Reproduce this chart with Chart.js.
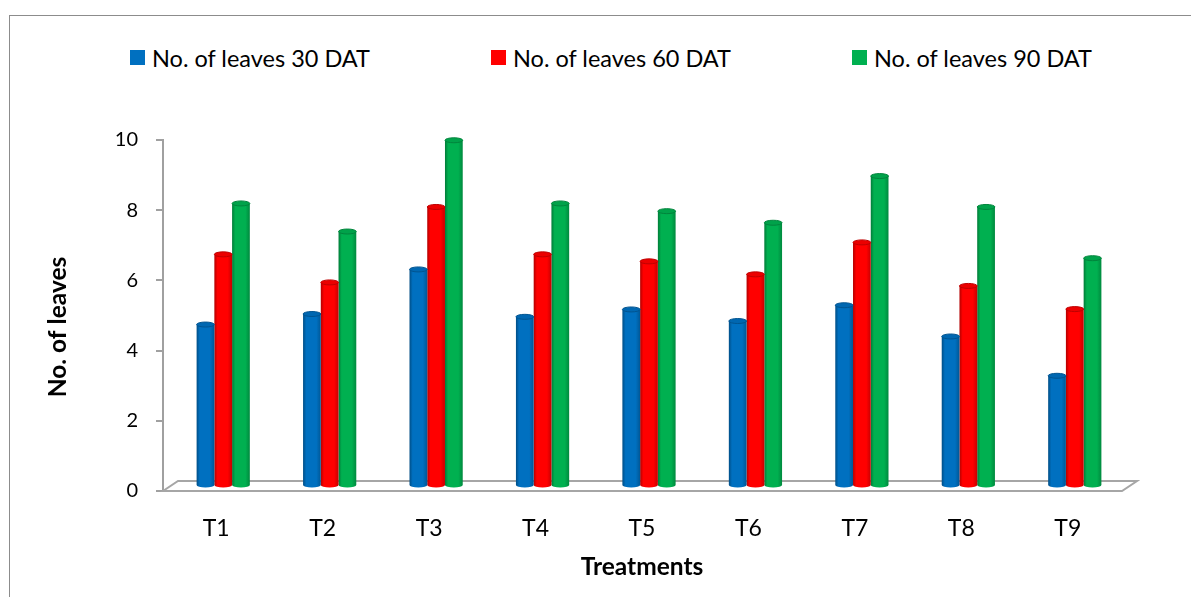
<!DOCTYPE html>
<html>
<head>
<meta charset="utf-8">
<script src="https://cdn.jsdelivr.net/npm/chart.js@4/dist/chart.umd.min.js"></script>
<style>
    body { margin: 0; background: #fff; overflow: hidden; }
    #frame { position: absolute; left: 9px; top: 15px; width: 1400px; height: 800px; border: 1px solid #8c8c8c; }
    #wrap { position: absolute; left: 0; top: 0; width: 1191px; height: 597px; }
    .legend-item { position: absolute; top: 43px; height: 29px; display: flex; align-items: center; font: 23.5px Lato, sans-serif; color: #000; white-space: nowrap; }
    .legend-item span { display: inline-block; width: 15px; height: 15px; margin-right: 7px; }
</style>
</head>
<body>
<div id="frame"></div>
<div id="legend"></div>
<div id="wrap"><canvas id="leavesChart" width="1191" height="597"></canvas></div>
<script>
const treatments = ["T1", "T2", "T3", "T4", "T5", "T6", "T7", "T8", "T9"];
const leaves30 = [4.60, 4.90, 6.17, 4.82, 5.03, 4.70, 5.15, 4.26, 3.14];
const leaves60 = [6.60, 5.80, 7.95, 6.60, 6.40, 6.03, 6.94, 5.70, 5.04];
const leaves90 = [8.05, 7.25, 9.85, 8.05, 7.83, 7.50, 8.83, 7.95, 6.49];
const seriesNames = ["No. of leaves 30 DAT", "No. of leaves 60 DAT", "No. of leaves 90 DAT"];
const seriesColors = ["#0070C0", "#FF0000", "#00B050"];
const legendLeft = [130, 491, 852];

const FONT = "Lato, sans-serif";

function shade(hex, f) {
    const n = parseInt(hex.slice(1), 16);
    const r = Math.round(((n >> 16) & 255) * f);
    const g = Math.round(((n >> 8) & 255) * f);
    const b = Math.round((n & 255) * f);
    return "rgb(" + Math.min(r, 255) + "," + Math.min(g, 255) + "," + Math.min(b, 255) + ")";
}

// html legend, Excel spaces the entries unevenly
const legendDiv = document.getElementById("legend");
seriesNames.forEach((name, i) => {
    const item = document.createElement("div");
    item.className = "legend-item";
    item.style.left = legendLeft[i] + "px";
    item.innerHTML = '<span style="background:' + seriesColors[i] + '"></span>' + name;
    legendDiv.appendChild(item);
});

// 3d floor + cylinder bars (bars sit half way back on the floor)
const DX = 7, DY = -5;
const cylinderPlugin = {
    id: "cylinders",
    beforeDatasetsDraw(chart) {
        const ctx = chart.ctx;
        const x = chart.scales.x, y = chart.scales.y;
        const y0 = y.getPixelForValue(0);
        ctx.save();
        ctx.beginPath();
        ctx.moveTo(x.left, y0);
        ctx.lineTo(x.left + 15, y0 - 10);
        ctx.lineTo(x.right + 16, y0 - 10);
        ctx.lineTo(x.right + 1, y0);
        ctx.closePath();
        ctx.fillStyle = "#ffffff";
        ctx.fill();
        ctx.strokeStyle = "#a6a6a6";
        ctx.lineWidth = 2;
        ctx.stroke();
        ctx.restore();
    },
    beforeDatasetDraw(chart, args) {
        const ctx = chart.ctx;
        const color = seriesColors[args.index];
        ctx.save();
        args.meta.data.forEach(bar => {
            const p = bar.getProps(["x", "y", "base", "width"], true);
            const cx = p.x + DX;
            const left = cx - p.width / 2, right = cx + p.width / 2;
            const top = p.y + DY, bottom = p.base + DY;
            const rx = p.width / 2, ry = 2.5;
            const grad = ctx.createLinearGradient(left, 0, right, 0);
            grad.addColorStop(0, shade(color, 0.7));
            grad.addColorStop(0.18, color);
            grad.addColorStop(0.75, color);
            grad.addColorStop(1, shade(color, 0.78));
            ctx.beginPath();
            ctx.moveTo(left, top);
            ctx.lineTo(left, bottom);
            ctx.ellipse(cx, bottom, rx, ry, 0, Math.PI, 0, true);
            ctx.lineTo(right, top);
            ctx.closePath();
            ctx.fillStyle = grad;
            ctx.fill();
            ctx.beginPath();
            ctx.ellipse(cx, top, rx, ry, 0, 0, Math.PI * 2);
            ctx.fillStyle = shade(color, 0.92);
            ctx.fill();
            ctx.strokeStyle = shade(color, 0.75);
            ctx.lineWidth = 1;
            ctx.stroke();
        });
        ctx.restore();
        return false;
    },
    afterDraw(chart) {
        // y title sits a little below the middle of the axis in the original
        const ctx = chart.ctx;
        ctx.save();
        ctx.translate(58, 327);
        ctx.rotate(-Math.PI / 2);
        ctx.font = "bold 24.5px " + FONT;
        ctx.fillStyle = "#000";
        ctx.textAlign = "center";
        ctx.textBaseline = "middle";
        ctx.fillText("No. of leaves", 0, 0);
        ctx.restore();
    }
};

new Chart(document.getElementById("leavesChart"), {
    type: "bar",
    data: {
        labels: treatments,
        datasets: [
            { label: seriesNames[0], data: leaves30, backgroundColor: seriesColors[0] },
            { label: seriesNames[1], data: leaves60, backgroundColor: seriesColors[1] },
            { label: seriesNames[2], data: leaves90, backgroundColor: seriesColors[2] }
        ]
    },
    options: {
        responsive: false,
        animation: false,
        categoryPercentage: 0.5,
        barPercentage: 1,
        layout: { padding: { top: 140, right: 70, left: 0, bottom: 0 } },
        plugins: { legend: { display: false }, tooltip: { enabled: false } },
        scales: {
            x: {
                grid: { display: false },
                border: { display: false },
                ticks: { color: "#000", padding: 16, font: { family: FONT, size: 23 } },
                title: {
                    display: true, text: "Treatments", color: "#000",
                    font: { family: FONT, size: 24.5, weight: "bold" },
                    padding: { top: 0, bottom: 15 }
                },
                afterFit(scale) { scale.height = 106; }
            },
            y: {
                min: 0,
                max: 10,
                ticks: { stepSize: 2, color: "#000", padding: 18, font: { family: FONT, size: 20 } },
                grid: { drawOnChartArea: false, tickLength: 7, color: "#a0a0a0", lineWidth: 2 },
                border: { color: "#a0a0a0", width: 2 },
                afterFit(scale) { scale.width = 163; }
            }
        }
    },
    plugins: [cylinderPlugin]
});
</script>
</body>
</html>
